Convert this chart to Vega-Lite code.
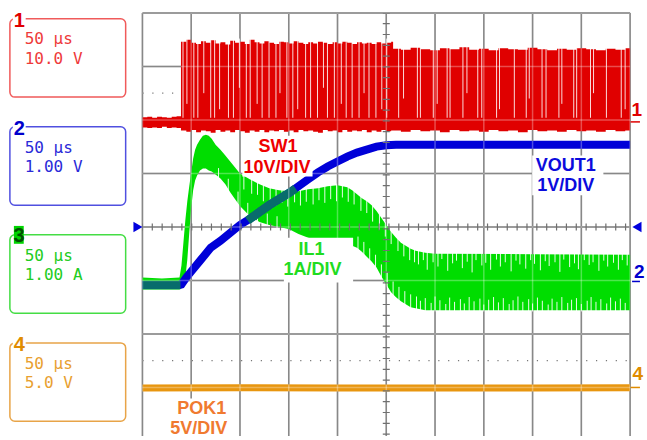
{
"$schema": "https://vega.github.io/schema/vega-lite/v6.json",
"width": 647, "height": 440,
"autosize": {"type": "fit", "contains": "padding"},
"padding": 0,
"background": "white",
"config": {"view": {"stroke": null}, "axis": {"disable": true}},
"datasets": {
"grid_v": [{"t":0},{"t":50},{"t":100},{"t":150},{"t":200},{"t":250},{"t":300},{"t":350},{"t":400},{"t":450},{"t":500}],
"grid_h": [{"d":4},{"d":3},{"d":2},{"d":1},{"d":0},{"d":-1},{"d":-2},{"d":-3}],
"dots": [{"d":2.5},{"d":-2.5}],
"red": [{"t":0,"d":2.05,"d2":1.86},{"t":5,"d":2.06,"d2":1.85},{"t":10,"d":2.04,"d2":1.86},{"t":15,"d":2.06,"d2":1.85},{"t":20,"d":2.05,"d2":1.87},{"t":25,"d":2.04,"d2":1.85},{"t":30,"d":2.06,"d2":1.86},{"t":35,"d":2.07,"d2":1.85},
{"t":39.5,"d":3.46,"d2":1.80},{"t":45,"d":3.50,"d2":1.78},{"t":50,"d":3.44,"d2":1.81},{"t":55,"d":3.42,"d2":1.77},{"t":60,"d":3.47,"d2":1.80},{"t":65,"d":3.44,"d2":1.79},{"t":70,"d":3.49,"d2":1.76},{"t":75,"d":3.43,"d2":1.81},{"t":80,"d":3.45,"d2":1.78},{"t":85,"d":3.41,"d2":1.80},{"t":90,"d":3.48,"d2":1.77},{"t":95,"d":3.44,"d2":1.81},{"t":100,"d":3.46,"d2":1.79},{"t":105,"d":3.42,"d2":1.76},{"t":110,"d":3.50,"d2":1.80},{"t":115,"d":3.45,"d2":1.78},{"t":120,"d":3.43,"d2":1.81},{"t":125,"d":3.47,"d2":1.77},{"t":130,"d":3.44,"d2":1.80},{"t":135,"d":3.42,"d2":1.79},{"t":140,"d":3.46,"d2":1.81},{"t":145,"d":3.45,"d2":1.78},{"t":150,"d":3.43,"d2":1.80},{"t":155,"d":3.47,"d2":1.77},{"t":160,"d":3.44,"d2":1.81},{"t":165,"d":3.42,"d2":1.79},{"t":170,"d":3.45,"d2":1.80},{"t":175,"d":3.43,"d2":1.78},{"t":180,"d":3.46,"d2":1.76},{"t":185,"d":3.44,"d2":1.81},{"t":190,"d":3.42,"d2":1.79},{"t":195,"d":3.45,"d2":1.80},{"t":200,"d":3.43,"d2":1.77},{"t":205,"d":3.46,"d2":1.81},{"t":210,"d":3.44,"d2":1.78},{"t":215,"d":3.42,"d2":1.80},{"t":220,"d":3.45,"d2":1.79},{"t":225,"d":3.43,"d2":1.81},{"t":230,"d":3.44,"d2":1.77},{"t":235,"d":3.42,"d2":1.80},{"t":240,"d":3.45,"d2":1.78},{"t":245,"d":3.43,"d2":1.81},{"t":250,"d":3.44,"d2":1.79},{"t":255,"d":3.46,"d2":1.80},
{"t":257,"d":3.33,"d2":1.80},{"t":265,"d":3.31,"d2":1.78},{"t":275,"d":3.35,"d2":1.81},{"t":285,"d":3.32,"d2":1.79},{"t":295,"d":3.30,"d2":1.80},{"t":305,"d":3.34,"d2":1.77},{"t":315,"d":3.32,"d2":1.81},{"t":325,"d":3.36,"d2":1.79},{"t":335,"d":3.31,"d2":1.80},{"t":345,"d":3.33,"d2":1.78},{"t":355,"d":3.30,"d2":1.81},{"t":365,"d":3.34,"d2":1.79},{"t":375,"d":3.32,"d2":1.80},{"t":385,"d":3.31,"d2":1.77},{"t":395,"d":3.35,"d2":1.81},{"t":405,"d":3.32,"d2":1.79},{"t":415,"d":3.30,"d2":1.80},{"t":425,"d":3.33,"d2":1.78},{"t":435,"d":3.31,"d2":1.81},{"t":445,"d":3.34,"d2":1.79},{"t":455,"d":3.32,"d2":1.80},{"t":465,"d":3.30,"d2":1.78},{"t":475,"d":3.33,"d2":1.81},{"t":485,"d":3.31,"d2":1.79},{"t":495,"d":3.34,"d2":1.80},{"t":500,"d":3.34,"d2":1.80}],
"red_gaps": [{"t":41.6,"d":3.52,"d2":2.04},{"t":45.6,"d":3.52,"d2":2.3},{"t":52.7,"d":3.52,"d2":2.04},{"t":56.8,"d":3.52,"d2":2.04},{"t":62.9,"d":3.52,"d2":2.5},{"t":70.0,"d":3.52,"d2":2.04},{"t":74.0,"d":3.52,"d2":2.04},{"t":79.1,"d":3.52,"d2":2.2},{"t":88.2,"d":3.52,"d2":2.04},{"t":93.3,"d":3.52,"d2":2.04},{"t":99.4,"d":3.52,"d2":2.6},{"t":106.5,"d":3.52,"d2":2.04},{"t":110.5,"d":3.52,"d2":2.04},{"t":117.6,"d":3.52,"d2":2.3},{"t":122.7,"d":3.52,"d2":2.04},{"t":129.8,"d":3.52,"d2":2.04},{"t":136.9,"d":3.52,"d2":2.04},{"t":141.0,"d":3.52,"d2":2.5},{"t":148.1,"d":3.52,"d2":2.04},{"t":154.2,"d":3.52,"d2":2.04},{"t":159.2,"d":3.52,"d2":2.2},{"t":167.3,"d":3.52,"d2":2.04},{"t":172.4,"d":3.52,"d2":2.04},{"t":179.5,"d":3.52,"d2":2.04},{"t":185.6,"d":3.52,"d2":2.6},{"t":189.7,"d":3.52,"d2":2.04},{"t":196.8,"d":3.52,"d2":2.04},{"t":203.9,"d":3.52,"d2":2.3},{"t":208.9,"d":3.52,"d2":2.04},{"t":215.0,"d":3.52,"d2":2.04},{"t":222.1,"d":3.52,"d2":2.04},{"t":227.2,"d":3.52,"d2":2.5},{"t":232.3,"d":3.52,"d2":2.04},{"t":239.4,"d":3.52,"d2":2.04},{"t":245.4,"d":3.52,"d2":2.2},{"t":250.5,"d":3.52,"d2":2.04},
{"t":262.7,"d":3.40,"d2":2.04},{"t":267.7,"d":3.40,"d2":2.4},{"t":281.9,"d":3.40,"d2":2.04},{"t":285.0,"d":3.40,"d2":2.04},{"t":298.2,"d":3.40,"d2":2.04},{"t":302.2,"d":3.40,"d2":2.3},{"t":312.4,"d":3.40,"d2":2.04},{"t":315.4,"d":3.40,"d2":2.04},{"t":328.6,"d":3.40,"d2":2.04},{"t":332.7,"d":3.40,"d2":2.5},{"t":343.8,"d":3.40,"d2":2.04},{"t":347.9,"d":3.40,"d2":2.04},{"t":363.1,"d":3.40,"d2":2.04},{"t":366.1,"d":3.40,"d2":2.2},{"t":381.3,"d":3.40,"d2":2.04},{"t":393.5,"d":3.40,"d2":2.04},{"t":396.6,"d":3.40,"d2":2.4},{"t":409.7,"d":3.40,"d2":2.04},{"t":413.8,"d":3.40,"d2":2.04},{"t":427.0,"d":3.40,"d2":2.04},{"t":430.0,"d":3.40,"d2":2.3},{"t":442.2,"d":3.40,"d2":2.04},{"t":445.2,"d":3.40,"d2":2.04},{"t":459.4,"d":3.40,"d2":2.04},{"t":462.5,"d":3.40,"d2":2.5},{"t":475.7,"d":3.40,"d2":2.04},{"t":490.9,"d":3.40,"d2":2.04},{"t":494.9,"d":3.40,"d2":2.2}],
"green": [{"t":0,"d":-0.944,"d2":-1.167},{"t":20,"d":-0.963,"d2":-1.167},{"t":38,"d":-0.944,"d2":-1.167},{"t":40,"d":-0.722,"d2":-1.148},{"t":42,"d":-0.296,"d2":-1.093},{"t":44,"d":0.130,"d2":-0.944},{"t":46,"d":0.481,"d2":-0.611},{"t":48,"d":0.759,"d2":-0.111},{"t":50,"d":1.019,"d2":0.352},{"t":52,"d":1.278,"d2":0.685},{"t":54,"d":1.444,"d2":0.870},{"t":56,"d":1.537,"d2":0.963},{"t":59,"d":1.630,"d2":1.056},{"t":62,"d":1.704,"d2":1.093},{"t":65,"d":1.722,"d2":1.093},{"t":68,"d":1.704,"d2":1.056},{"t":71,"d":1.648,"d2":1.037},{"t":75,"d":1.537,"d2":0.981},{"t":80,"d":1.444,"d2":0.907},{"t":85,"d":1.333,"d2":0.796},{"t":90,"d":1.222,"d2":0.648},{"t":95,"d":1.111,"d2":0.519},{"t":100,"d":1.000,"d2":0.389},{"t":110,"d":0.889,"d2":0.204},{"t":120,"d":0.796,"d2":0.093},{"t":130,"d":0.722,"d2":0.037},{"t":140,"d":0.685,"d2":0.0},{"t":150,"d":0.667,"d2":-0.037},{"t":160,"d":0.667,"d2":-0.130},{"t":170,"d":0.704,"d2":-0.204},{"t":180,"d":0.722,"d2":-0.259},{"t":190,"d":0.759,"d2":-0.315},{"t":200,"d":0.778,"d2":-0.315},{"t":210,"d":0.741,"d2":-0.333},{"t":215,"d":0.685,"d2":-0.352},{"t":220,"d":0.611,"d2":-0.389},{"t":225,"d":0.537,"d2":-0.463},{"t":230,"d":0.481,"d2":-0.556},{"t":235,"d":0.407,"d2":-0.648},{"t":240,"d":0.296,"d2":-0.759},{"t":245,"d":0.167,"d2":-0.926},{"t":250,"d":0.037,"d2":-1.074},{"t":255,"d":-0.093,"d2":-1.222},{"t":260,"d":-0.204,"d2":-1.315},{"t":265,"d":-0.296,"d2":-1.389},{"t":270,"d":-0.352,"d2":-1.444},{"t":275,"d":-0.407,"d2":-1.500},{"t":280,"d":-0.444,"d2":-1.519},{"t":290,"d":-0.481,"d2":-1.556},{"t":300,"d":-0.500,"d2":-1.556},{"t":400,"d":-0.510,"d2":-1.556},{"t":500,"d":-0.519,"d2":-1.556}],
"green_notch": [{"t":283,"d":-0.43,"d2":-0.70},{"t":288,"d":-0.45,"d2":-0.62},{"t":292,"d":-0.46,"d2":-0.80},{"t":298,"d":-0.47,"d2":-0.66},{"t":303,"d":-0.47,"d2":-0.74},{"t":307,"d":-0.47,"d2":-0.60},{"t":313,"d":-0.47,"d2":-0.82},{"t":318,"d":-0.47,"d2":-0.68},{"t":322,"d":-0.47,"d2":-0.63},{"t":328,"d":-0.47,"d2":-0.77},{"t":333,"d":-0.48,"d2":-0.65},{"t":338,"d":-0.48,"d2":-0.85},{"t":342,"d":-0.48,"d2":-0.62},{"t":348,"d":-0.48,"d2":-0.72},{"t":352,"d":-0.48,"d2":-0.67},{"t":357,"d":-0.48,"d2":-0.80},{"t":363,"d":-0.48,"d2":-0.61},{"t":367,"d":-0.48,"d2":-0.74},{"t":372,"d":-0.48,"d2":-0.66},{"t":378,"d":-0.48,"d2":-0.83},{"t":383,"d":-0.48,"d2":-0.63},{"t":387,"d":-0.48,"d2":-0.70},{"t":393,"d":-0.48,"d2":-0.78},{"t":398,"d":-0.48,"d2":-0.62},{"t":402,"d":-0.49,"d2":-0.69},{"t":408,"d":-0.49,"d2":-0.81},{"t":413,"d":-0.49,"d2":-0.64},{"t":417,"d":-0.49,"d2":-0.73},{"t":423,"d":-0.49,"d2":-0.66},{"t":428,"d":-0.49,"d2":-0.84},{"t":432,"d":-0.49,"d2":-0.61},{"t":438,"d":-0.49,"d2":-0.75},{"t":443,"d":-0.49,"d2":-0.68},{"t":447,"d":-0.49,"d2":-0.79},{"t":453,"d":-0.49,"d2":-0.62},{"t":458,"d":-0.49,"d2":-0.71},{"t":462,"d":-0.49,"d2":-0.66},{"t":468,"d":-0.49,"d2":-0.82},{"t":473,"d":-0.49,"d2":-0.63},{"t":477,"d":-0.49,"d2":-0.74},{"t":483,"d":-0.49,"d2":-0.67},{"t":488,"d":-0.49,"d2":-0.80},{"t":492,"d":-0.49,"d2":-0.62},{"t":497,"d":-0.49,"d2":-0.72},
{"t":285,"d":-1.58,"d2":-1.38},{"t":290,"d":-1.58,"d2":-1.33},{"t":296,"d":-1.58,"d2":-1.42},{"t":300,"d":-1.58,"d2":-1.30},{"t":305,"d":-1.58,"d2":-1.37},{"t":311,"d":-1.58,"d2":-1.44},{"t":315,"d":-1.58,"d2":-1.32},{"t":320,"d":-1.58,"d2":-1.40},{"t":326,"d":-1.58,"d2":-1.35},{"t":330,"d":-1.58,"d2":-1.43},{"t":335,"d":-1.58,"d2":-1.31},{"t":340,"d":-1.58,"d2":-1.39},{"t":346,"d":-1.58,"d2":-1.34},{"t":350,"d":-1.58,"d2":-1.45},{"t":355,"d":-1.58,"d2":-1.36},{"t":360,"d":-1.58,"d2":-1.31},{"t":365,"d":-1.58,"d2":-1.41},{"t":370,"d":-1.58,"d2":-1.33},{"t":376,"d":-1.58,"d2":-1.44},{"t":380,"d":-1.58,"d2":-1.37},{"t":385,"d":-1.58,"d2":-1.30},{"t":390,"d":-1.58,"d2":-1.40},{"t":396,"d":-1.58,"d2":-1.35},{"t":400,"d":-1.58,"d2":-1.43},{"t":405,"d":-1.58,"d2":-1.32},{"t":410,"d":-1.58,"d2":-1.38},{"t":416,"d":-1.58,"d2":-1.45},{"t":420,"d":-1.58,"d2":-1.34},{"t":425,"d":-1.58,"d2":-1.40},{"t":430,"d":-1.58,"d2":-1.31},{"t":436,"d":-1.58,"d2":-1.42},{"t":440,"d":-1.58,"d2":-1.36},{"t":445,"d":-1.58,"d2":-1.33},{"t":450,"d":-1.58,"d2":-1.44},{"t":456,"d":-1.58,"d2":-1.38},{"t":460,"d":-1.58,"d2":-1.31},{"t":465,"d":-1.58,"d2":-1.40},{"t":470,"d":-1.58,"d2":-1.35},{"t":476,"d":-1.58,"d2":-1.43},{"t":480,"d":-1.58,"d2":-1.32},{"t":485,"d":-1.58,"d2":-1.39},{"t":490,"d":-1.58,"d2":-1.34},{"t":495,"d":-1.58,"d2":-1.42},
{"t":104,"d":0.98,"d2":0.70},{"t":112,"d":0.90,"d2":0.62},{"t":118,"d":0.84,"d2":0.60},{"t":124,"d":0.80,"d2":0.48},{"t":131,"d":0.75,"d2":0.50},{"t":137,"d":0.72,"d2":0.40},{"t":143,"d":0.71,"d2":0.45},{"t":149,"d":0.70,"d2":0.38},{"t":156,"d":0.70,"d2":0.46},{"t":162,"d":0.70,"d2":0.40},{"t":168,"d":0.73,"d2":0.47},{"t":175,"d":0.74,"d2":0.42},{"t":181,"d":0.75,"d2":0.50},{"t":187,"d":0.78,"d2":0.45},{"t":193,"d":0.79,"d2":0.52},{"t":199,"d":0.81,"d2":0.48},{"t":205,"d":0.79,"d2":0.55},{"t":211,"d":0.76,"d2":0.47},{"t":217,"d":0.68,"d2":0.42},{"t":224,"d":0.59,"d2":0.30},{"t":230,"d":0.51,"d2":0.26},{"t":236,"d":0.40,"d2":0.10},{"t":243,"d":0.25,"d2":-0.05},{"t":249,"d":0.09,"d2":-0.18},{"t":255,"d":-0.06,"d2":-0.32},{"t":262,"d":-0.20,"d2":-0.45},{"t":268,"d":-0.29,"d2":-0.55},{"t":274,"d":-0.36,"d2":-0.62},{"t":279,"d":-0.41,"d2":-0.66},
{"t":221,"d":-0.43,"d2":-0.18},{"t":227,"d":-0.53,"d2":-0.28},{"t":233,"d":-0.64,"d2":-0.40},{"t":239,"d":-0.77,"d2":-0.52},{"t":245,"d":-0.96,"d2":-0.70},{"t":251,"d":-1.13,"d2":-0.85},{"t":257,"d":-1.29,"d2":-1.02},{"t":263,"d":-1.39,"d2":-1.12},{"t":269,"d":-1.46,"d2":-1.20},{"t":275,"d":-1.53,"d2":-1.26},{"t":281,"d":-1.56,"d2":-1.30},
{"t":78,"d":0.91,"d2":1.10},{"t":88,"d":0.68,"d2":0.90},{"t":98,"d":0.41,"d2":0.66},{"t":108,"d":0.21,"d2":0.45},{"t":118,"d":0.08,"d2":0.32},{"t":128,"d":0.02,"d2":0.25},{"t":138,"d":-0.02,"d2":0.20}],
"blue": [{"t":0,"d":-1.083},{"t":38,"d":-1.083},{"t":40,"d":-1.074},{"t":45,"d":-0.944},{"t":50,"d":-0.833},{"t":60,"d":-0.611},{"t":70,"d":-0.389},{"t":80,"d":-0.259},{"t":90,"d":-0.111},{"t":100,"d":0.037},{"t":110,"d":0.148},{"t":120,"d":0.278},{"t":130,"d":0.407},{"t":140,"d":0.519},{"t":150,"d":0.630},{"t":160,"d":0.759},{"t":170,"d":0.889},{"t":180,"d":1.019},{"t":190,"d":1.130},{"t":200,"d":1.222},{"t":210,"d":1.315},{"t":220,"d":1.389},{"t":230,"d":1.444},{"t":240,"d":1.500},{"t":250,"d":1.528},{"t":260,"d":1.537},{"t":500,"d":1.537}],
"teal": [{"t":0,"d":-1.083,"seg":"a"},{"t":39,"d":-1.083,"seg":"a"},{"t":108,"d":0.12,"seg":"b"},{"t":110,"d":0.148,"seg":"b"},{"t":120,"d":0.278,"seg":"b"},{"t":130,"d":0.407,"seg":"b"},{"t":140,"d":0.519,"seg":"b"},{"t":150,"d":0.630,"seg":"b"},{"t":157,"d":0.72,"seg":"b"}],
"orange": [{"t":0,"d":-3.009},{"t":100,"d":-3.006},{"t":200,"d":-3.011},{"t":300,"d":-3.008},{"t":400,"d":-3.010},{"t":500,"d":-3.007}],
"label_boxes": [{"t":102.4,"t2":174.4,"d":1.704,"d2":0.944},{"t":399.6,"t2":472.6,"d":1.333,"d2":0.593},{"t":145.0,"t2":216.0,"d":-0.204,"d2":-1.037},{"t":28.4,"t2":91.3,"d":-3.204,"d2":-3.907}],
"ch_boxes": [{"ch":"1","t":-135.9,"t2":-17.2,"d":3.889,"d2":2.426},{"ch":"2","t":-135.9,"t2":-17.2,"d":1.870,"d2":0.407},{"ch":"3","t":-135.9,"t2":-17.2,"d":-0.148,"d2":-1.611},{"ch":"4","t":-135.9,"t2":-17.2,"d":-2.167,"d2":-3.630}],
"num_bg": [{"t":-132.9,"t2":-119.7,"d":3.963,"d2":3.815},{"t":-132.9,"t2":-119.7,"d":1.944,"d2":1.796},{"t":-132.9,"t2":-119.7,"d":-2.093,"d2":-2.241}],
"num3_bg": [{"t":-131.8,"t2":-121.7,"d":0.019,"d2":-0.315}],
"nums": [{"ch":"1","t":-126.3,"d":3.741,"text":"1"},{"ch":"2","t":-126.3,"d":1.722,"text":"2"},{"ch":"3","t":-126.6,"d":-0.278,"text":"3"},{"ch":"4","t":-126.3,"d":-2.315,"text":"4"}],
"ch_text": [{"ch":"1","t":-120.7,"d":3.426,"text":"50 μs"},{"ch":"1","t":-120.7,"d":3.037,"text":"10.0 V"},{"ch":"2","t":-120.7,"d":1.389,"text":"50 μs"},{"ch":"2","t":-120.7,"d":1.028,"text":"1.00 V"},{"ch":"3","t":-120.7,"d":-0.630,"text":"50 μs"},{"ch":"3","t":-120.7,"d":-1.0,"text":"1.00 A"},{"ch":"4","t":-120.7,"d":-2.648,"text":"50 μs"},{"ch":"4","t":-120.7,"d":-3.019,"text":"5.0 V"}],
"markers": [{"ch":"1","t":501.5,"d":2.074,"text":"1"},{"ch":"2","t":504,"d":-0.963,"text":"2"},{"ch":"4","t":502.5,"d":-2.852,"text":"4"}],
"marker_dash": [{"ch":"1","t":500.5,"t2":510.1,"d":1.963},{"ch":"2","t":502,"t2":510.1,"d":-1.019},{"ch":"4","t":500.5,"t2":510.1,"d":-3.0}],
"trig": [{"t":-4.6,"d":0,"dir":"r"},{"t":507,"d":0,"dir":"l"}]
},
"layer": [
{"data": {"name": "grid_v"}, "mark": {"type": "rule", "color": "#555555", "strokeWidth": 1.5}, "encoding": {"x": {"field": "t", "type": "quantitative", "scale": {"domain": [-146.04, 510.14], "nice": false, "zero": false}, "axis": null}, "y": {"datum": 4, "type": "quantitative", "scale": {"domain": [-3.907, 4.241], "nice": false, "zero": false}, "axis": null}, "y2": {"datum": -3.907}}},
{"data": {"name": "grid_h"}, "mark": {"type": "rule", "color": "#555555", "strokeWidth": 1.5}, "encoding": {"x": {"datum": 0, "type": "quantitative", "axis": null}, "x2": {"datum": 500}, "y": {"field": "d", "type": "quantitative", "axis": null}}},
{"data": {"name": "dots"}, "mark": {"type": "rule", "color": "#777777", "strokeWidth": 1.2, "strokeDash": [1.2, 8.66]}, "encoding": {"x": {"datum": 0, "type": "quantitative", "axis": null}, "x2": {"datum": 500}, "y": {"field": "d", "type": "quantitative", "axis": null}}},
{"data": {"name": "red"}, "mark": {"type": "area", "color": "#e00000", "interpolate": "step-after"}, "encoding": {"x": {"field": "t", "type": "quantitative", "axis": null}, "y": {"field": "d", "type": "quantitative", "axis": null}, "y2": {"field": "d2"}}},
{"data": {"name": "red_gaps"}, "mark": {"type": "rule", "color": "#ffffff", "opacity": 0.85, "strokeWidth": 1}, "encoding": {"x": {"field": "t", "type": "quantitative", "axis": null}, "y": {"field": "d", "type": "quantitative", "axis": null}, "y2": {"field": "d2"}}},
{"data": {"name": "green"}, "mark": {"type": "area", "color": "#00dd00"}, "encoding": {"x": {"field": "t", "type": "quantitative", "axis": null}, "y": {"field": "d", "type": "quantitative", "axis": null}, "y2": {"field": "d2"}}},
{"data": {"name": "green_notch"}, "mark": {"type": "rule", "color": "#ffffff", "opacity": 0.9, "strokeWidth": 1}, "encoding": {"x": {"field": "t", "type": "quantitative", "axis": null}, "y": {"field": "d", "type": "quantitative", "axis": null}, "y2": {"field": "d2"}}},
{"data": {"name": "blue"}, "mark": {"type": "line", "color": "#0000d8", "strokeWidth": 8}, "encoding": {"x": {"field": "t", "type": "quantitative", "axis": null}, "y": {"field": "d", "type": "quantitative", "axis": null}}},
{"data": {"name": "teal"}, "mark": {"type": "line", "color": "#086c6c", "strokeWidth": 8.5}, "encoding": {"x": {"field": "t", "type": "quantitative", "axis": null}, "y": {"field": "d", "type": "quantitative", "axis": null}, "detail": {"field": "seg"}}},
{"data": {"name": "orange"}, "mark": {"type": "line", "color": "#e8960f", "strokeWidth": 7}, "encoding": {"x": {"field": "t", "type": "quantitative", "axis": null}, "y": {"field": "d", "type": "quantitative", "axis": null}}},
{"data": {"name": "grid_v"}, "mark": {"type": "rule", "color": "#ffffff", "opacity": 0.3, "strokeWidth": 1.5}, "encoding": {"x": {"field": "t", "type": "quantitative", "axis": null}, "y": {"datum": 4, "type": "quantitative", "axis": null}, "y2": {"datum": -3.907}}},
{"data": {"name": "grid_h"}, "mark": {"type": "rule", "color": "#ffffff", "opacity": 0.3, "strokeWidth": 1.5}, "encoding": {"x": {"datum": 0, "type": "quantitative", "axis": null}, "x2": {"datum": 500}, "y": {"field": "d", "type": "quantitative", "axis": null}}},
{"data": {"values": [{}]}, "mark": {"type": "rule", "color": "#707070", "strokeWidth": 7, "strokeDash": [1.2, 8.66], "strokeDashOffset": 0.6}, "encoding": {"x": {"datum": 0, "type": "quantitative", "axis": null}, "x2": {"datum": 500}, "y": {"datum": 0, "type": "quantitative", "axis": null}}},
{"data": {"values": [{}]}, "mark": {"type": "rule", "color": "#707070", "strokeWidth": 7, "strokeDash": [1.2, 9.6], "strokeDashOffset": 0.6}, "encoding": {"x": {"datum": 250, "type": "quantitative", "axis": null}, "y": {"datum": 4, "type": "quantitative", "axis": null}, "y2": {"datum": -3.907}}},
{"data": {"name": "label_boxes"}, "mark": {"type": "rect", "color": "#ffffff"}, "encoding": {"x": {"field": "t", "type": "quantitative", "axis": null}, "x2": {"field": "t2"}, "y": {"field": "d", "type": "quantitative", "axis": null}, "y2": {"field": "d2"}}},
{"data": {"values": [{"t":139.0,"d":1.407,"text":"SW1"},{"t":137.9,"d":1.0,"text":"10V/DIV"}]}, "mark": {"type": "text", "font": "Liberation Sans", "fontWeight": "bold", "fontSize": 18, "align": "center", "baseline": "alphabetic", "color": "#ee0000"}, "encoding": {"x": {"field": "t", "type": "quantitative", "axis": null}, "y": {"field": "d", "type": "quantitative", "axis": null}, "text": {"field": "text"}}},
{"data": {"values": [{"t":173.4,"d":-0.519,"text":"IL1"},{"t":174.4,"d":-0.889,"text":"1A/DIV"}]}, "mark": {"type": "text", "font": "Liberation Sans", "fontWeight": "bold", "fontSize": 18, "align": "center", "baseline": "alphabetic", "color": "#1fdc1f"}, "encoding": {"x": {"field": "t", "type": "quantitative", "axis": null}, "y": {"field": "d", "type": "quantitative", "axis": null}, "text": {"field": "text"}}},
{"data": {"values": [{"t":434.1,"d":1.037,"text":"VOUT1"},{"t":434.1,"d":0.667,"text":"1V/DIV"}]}, "mark": {"type": "text", "font": "Liberation Sans", "fontWeight": "bold", "fontSize": 18, "align": "center", "baseline": "alphabetic", "color": "#0b0bdd"}, "encoding": {"x": {"field": "t", "type": "quantitative", "axis": null}, "y": {"field": "d", "type": "quantitative", "axis": null}, "text": {"field": "text"}}},
{"data": {"values": [{"t":60.9,"d":-3.5,"text":"POK1"},{"t":57.8,"d":-3.870,"text":"5V/DIV"}]}, "mark": {"type": "text", "font": "Liberation Sans", "fontWeight": "bold", "fontSize": 18, "align": "center", "baseline": "alphabetic", "color": "#f07a30"}, "encoding": {"x": {"field": "t", "type": "quantitative", "axis": null}, "y": {"field": "d", "type": "quantitative", "axis": null}, "text": {"field": "text"}}},
{"data": {"name": "ch_boxes"}, "mark": {"type": "rect", "filled": false, "cornerRadius": 5, "strokeWidth": 1.5}, "encoding": {"x": {"field": "t", "type": "quantitative", "axis": null}, "x2": {"field": "t2"}, "y": {"field": "d", "type": "quantitative", "axis": null}, "y2": {"field": "d2"}, "stroke": {"field": "ch", "type": "nominal", "scale": {"domain": ["1","2","3","4"], "range": ["#f05a5a", "#5050e0", "#44dd44", "#e8a448"]}, "legend": null}}},
{"data": {"name": "num_bg"}, "mark": {"type": "rect", "color": "#ffffff"}, "encoding": {"x": {"field": "t", "type": "quantitative", "axis": null}, "x2": {"field": "t2"}, "y": {"field": "d", "type": "quantitative", "axis": null}, "y2": {"field": "d2"}}},
{"data": {"name": "num3_bg"}, "mark": {"type": "rect", "color": "#00d400"}, "encoding": {"x": {"field": "t", "type": "quantitative", "axis": null}, "x2": {"field": "t2"}, "y": {"field": "d", "type": "quantitative", "axis": null}, "y2": {"field": "d2"}}},
{"data": {"name": "nums"}, "mark": {"type": "text", "font": "Liberation Sans", "fontWeight": "bold", "fontSize": 20, "align": "center", "baseline": "alphabetic"}, "encoding": {"x": {"field": "t", "type": "quantitative", "axis": null}, "y": {"field": "d", "type": "quantitative", "axis": null}, "text": {"field": "text"}, "color": {"field": "ch", "type": "nominal", "scale": {"domain": ["1","2","3","4"], "range": ["#e00000", "#0000cc", "#005000", "#e08c00"]}, "legend": null}}},
{"data": {"name": "ch_text"}, "mark": {"type": "text", "font": "DejaVu Sans Mono", "fontSize": 16, "align": "left", "baseline": "alphabetic"}, "encoding": {"x": {"field": "t", "type": "quantitative", "axis": null}, "y": {"field": "d", "type": "quantitative", "axis": null}, "text": {"field": "text"}, "fill": {"field": "ch", "type": "nominal", "scale": {"domain": ["1","2","3","4"], "range": ["#ee3a3a", "#2a2ad8", "#22cc22", "#e8a030"]}, "legend": null}}},
{"data": {"name": "markers"}, "mark": {"type": "text", "font": "Liberation Sans", "fontWeight": "bold", "fontSize": 19, "align": "left", "baseline": "alphabetic"}, "encoding": {"x": {"field": "t", "type": "quantitative", "axis": null}, "y": {"field": "d", "type": "quantitative", "axis": null}, "text": {"field": "text"}, "color": {"field": "ch", "type": "nominal", "legend": null}}},
{"data": {"name": "marker_dash"}, "mark": {"type": "rule", "strokeWidth": 1.5}, "encoding": {"x": {"field": "t", "type": "quantitative", "axis": null}, "x2": {"field": "t2"}, "y": {"field": "d", "type": "quantitative", "axis": null}, "color": {"field": "ch", "type": "nominal", "legend": null}}},
{"data": {"name": "trig"}, "mark": {"type": "point", "filled": true, "color": "#0000dd", "size": 110, "opacity": 1}, "encoding": {"x": {"field": "t", "type": "quantitative", "axis": null}, "y": {"field": "d", "type": "quantitative", "axis": null}, "shape": {"field": "dir", "type": "nominal", "scale": {"domain": ["r","l"], "range": ["triangle-right", "triangle-left"]}, "legend": null}}}
]
}
